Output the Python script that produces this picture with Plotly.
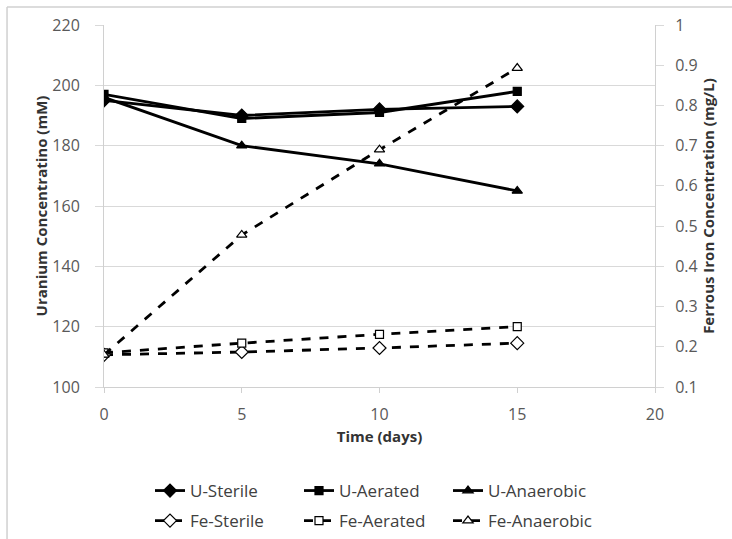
import plotly.graph_objects as go

days = [0, 5, 10, 15]
u_sterile = [195, 190, 192, 193]
u_aerated = [197, 189, 191, 198]
u_anaerobic = [196, 180, 174, 165]
fe_sterile = [0.18, 0.187, 0.197, 0.209]
fe_aerated = [0.185, 0.209, 0.231, 0.25]
fe_anaerobic = [0.18, 0.478, 0.69, 0.893]

fig = go.Figure()

sizes = {"diamond": 10, "square": 8, "triangle-up": 9}

def add(name, y, symbol, axis, dash, filled, width, legend):
    fig.add_trace(go.Scatter(
        x=days, y=y, name=name, yaxis=axis, mode="lines+markers", legend=legend,
        line=dict(color="black", width=width, dash=dash),
        marker=dict(symbol=symbol, size=sizes[symbol],
                    color="black" if filled else "white",
                    line=dict(color="black", width=1.2)),
    ))

add("U-Sterile", u_sterile, "diamond", "y", "solid", True, 2.8, "legend")
add("U-Aerated", u_aerated, "square", "y", "solid", True, 2.8, "legend")
add("U-Anaerobic", u_anaerobic, "triangle-up", "y", "solid", True, 2.8, "legend")
add("Fe-Sterile", fe_sterile, "diamond", "y2", "dash", False, 2.8, "legend2")
add("Fe-Aerated", fe_aerated, "square", "y2", "dash", False, 2.8, "legend2")
add("Fe-Anaerobic", fe_anaerobic, "triangle-up", "y2", "dash", False, 2.8, "legend2")

tickfont = dict(family="Open Sans", size=16, color="#595959")
titlefont = dict(family="Open Sans", size=15, color="#333333", weight="bold")
legfont = dict(family="Open Sans", size=17, color="#404040")

leg_common = dict(orientation="h", xref="container", yref="container",
                  x=150 / 732, xanchor="left", yanchor="middle",
                  entrywidth=104, entrywidthmode="pixels", font=legfont,
                  itemwidth=30, bgcolor="rgba(0,0,0,0)")

axcol = "#d0d0d0"

fig.update_layout(
    width=732, height=539,
    margin=dict(l=104, r=77, t=25, b=152),
    plot_bgcolor="white", paper_bgcolor="white",
    font=dict(family="Open Sans", color="#262626"),
    xaxis=dict(range=[0, 20], dtick=5, showgrid=False, zeroline=False,
               showline=True, linecolor=axcol, linewidth=1,
               ticks="outside", ticklen=5, tickcolor=axcol,
               tickfont=tickfont, ticklabelstandoff=8,
               title=dict(text="Time (days)", font=dict(titlefont, size=15), standoff=7)),
    yaxis=dict(range=[100, 220], dtick=20, showgrid=True, gridcolor="#d9d9d9",
               gridwidth=1, zeroline=False, showline=True, linecolor=axcol,
               ticks="outside", ticklen=8, tickcolor="#d9d9d9",
               tickfont=tickfont, ticklabelstandoff=12,
               title=dict(text="Uranium Concentratino (mM)", font=titlefont, standoff=1)),
    yaxis2=dict(range=[0.1, 1.0], dtick=0.1, overlaying="y", side="right",
                showgrid=False, zeroline=False, showline=True, linecolor=axcol,
                ticks="outside", ticklen=8, tickcolor="#d9d9d9",
                tickfont=tickfont, tickformat=".1~f", ticklabelstandoff=8,
                title=dict(text="Ferrous Iron Concentration (mg/L)", font=titlefont, standoff=4)),
    legend=dict(y=1 - 491 / 539, **leg_common),
    legend2=dict(y=1 - 521 / 539, **leg_common),
    showlegend=True,
)

fig.add_shape(type="line", xref="paper", yref="paper", x0=-0.176, x1=1.2, y0=1.0497, y1=1.0497,
              line=dict(color=axcol, width=1.5))
fig.add_shape(type="line", xref="paper", yref="paper", x0=-0.176, x1=-0.176, y0=-0.5, y1=1.0497,
              line=dict(color=axcol, width=1.5))

fig.write_html("out.html")
